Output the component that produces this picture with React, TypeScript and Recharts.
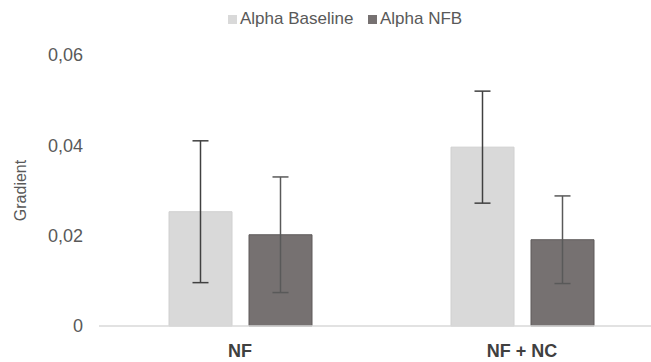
import React from 'react';
import { BarChart, Bar, XAxis, YAxis, ErrorBar } from 'recharts';

// Group labels along the category axis
const categories = ['NF', 'NF + NC'];
// Mean gradient per group
const alphaBaseline = [0.0253, 0.0396];
const alphaNfb = [0.0202, 0.0191];
// Error magnitudes (symmetric)
const alphaBaselineErr = [0.0157, 0.0124];
const alphaNfbErr = [0.0128, 0.0097];
// Value axis ticks
const yTicks = [0, 0.02, 0.04, 0.06];

const seriesNames = ['Alpha Baseline', 'Alpha NFB'];
const BASE_FILL = '#d9d9d9';
const NFB_FILL = '#767171';

const data = categories.map((name, i) => ({
  name,
  baseline: alphaBaseline[i],
  nfb: alphaNfb[i],
  baselineErr: alphaBaselineErr[i],
  nfbErr: alphaNfbErr[i],
}));

const fmt = (v: number) => (v === 0 ? '0' : v.toFixed(2).replace('.', ','));

const FONT = '"Liberation Sans", Arial, sans-serif';

export default function App() {
  const legendItems = [
    { label: seriesNames[0], color: BASE_FILL, left: 228 },
    { label: seriesNames[1], color: NFB_FILL, left: 368 },
  ];
  return (
    <div style={{ position: 'absolute', left: 0, top: 0, width: 651, height: 362, overflow: 'hidden', background: '#fff' }}>
      <BarChart
        width={680}
        height={362}
        data={data}
        margin={{ top: 55, right: 17, bottom: 0, left: 0 }}
        barSize={63}
        barGap={17}
      >
        <XAxis
          dataKey="name"
          height={36}
          axisLine={{ stroke: '#d9d9d9', strokeWidth: 1.5 }}
          tickLine={false}
          tickSize={0}
          tickMargin={18}
          tick={{ fill: '#404040', fontSize: 18, fontWeight: 700, fontFamily: FONT }}
        />
        <YAxis
          width={99}
          domain={[0, 0.06]}
          ticks={yTicks}
          axisLine={false}
          tickLine={false}
          tickSize={0}
          tickMargin={16}
          tickFormatter={fmt}
          tick={{ fill: '#595959', fontSize: 18, fontFamily: FONT }}
          label={{
            value: 'Gradient',
            angle: -90,
            position: 'center',
            dx: -29,
            fill: '#595959',
            fontSize: 16,
            fontFamily: FONT,
          }}
        />
        <Bar dataKey="baseline" name={seriesNames[0]} fill={BASE_FILL} stroke="#d0d0d0" strokeWidth={1} isAnimationActive={false}>
          <ErrorBar dataKey="baselineErr" width={8} stroke="#404040" strokeWidth={1.5} direction="y" isAnimationActive={false} />
        </Bar>
        <Bar dataKey="nfb" name={seriesNames[1]} fill={NFB_FILL} stroke="#5f5b5b" strokeWidth={1} isAnimationActive={false}>
          <ErrorBar dataKey="nfbErr" width={8} stroke="#595959" strokeWidth={1.5} direction="y" isAnimationActive={false} />
        </Bar>
      </BarChart>
      {legendItems.map((it) => (
        <div
          key={it.label}
          style={{
            position: 'absolute',
            left: it.left,
            top: 7,
            height: 24,
            display: 'flex',
            alignItems: 'center',
            fontFamily: FONT,
            fontSize: 17,
            color: '#595959',
            whiteSpace: 'nowrap',
          }}
        >
          <span style={{ display: 'inline-block', width: 9, height: 9, background: it.color, marginRight: 3 }} />
          {it.label}
        </div>
      ))}
    </div>
  );
}
